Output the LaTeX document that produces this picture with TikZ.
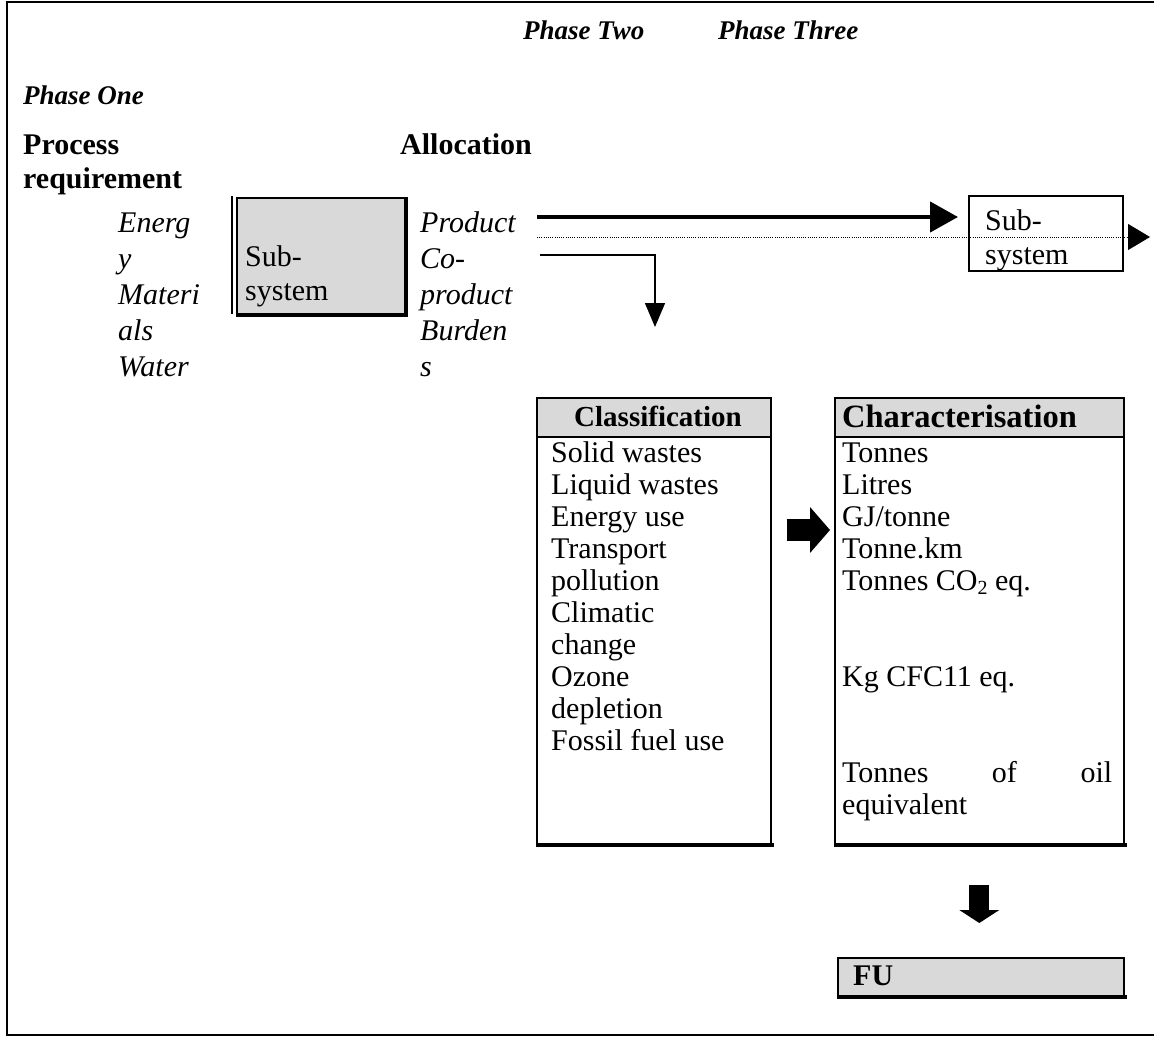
\documentclass[tikz,border=0pt]{standalone}
\usepackage{fontspec}
\setmainfont{Liberation Serif}
\usetikzlibrary{arrows.meta}
\definecolor{boxgray}{HTML}{D9D9D9}
\tikzset{
  txt/.style={font=\fontsize{30}{32}\selectfont, inner sep=0pt, anchor=base west},
  itx/.style={txt, font=\fontsize{30}{32}\selectfont\itshape},
  bfx/.style={txt, font=\fontsize{30}{32}\selectfont\bfseries},
  phase/.style={txt, font=\fontsize{27}{30}\selectfont\bfseries\itshape},
  frameline/.style={line width=2.5pt},
  boxline/.style={line width=1.6pt},
  shadowline/.style={line width=4pt},
  emptybox/.style={draw, boxline, inner sep=0pt, anchor=north west},
  graybox/.style={emptybox, fill=boxgray},
  thickarrow/.style={line width=4.5pt, -{Triangle[length=28pt,width=30pt]}},
  dotarrow/.style={line width=1pt, dash pattern=on 1pt off 1.2pt, -{Triangle[length=22pt,width=26pt]}},
  thinarrow/.style={line width=1.5pt, -{Triangle[length=24pt,width=20pt]}},
}
\begin{document}
\begin{tikzpicture}[x=1pt,y=-1pt]
\useasboundingbox (0,0) rectangle (1154,1038);
% outer frame
\draw[frameline] (1170,2) -- (7,2) -- (7,1035) -- (1170,1035);

% phase titles
\node[phase] (p2) at (523,40) {Phase Two};
\node[phase] (p3) at (718,40) {Phase Three};
\node[phase] (p1) at (23,105) {Phase One};
\node[bfx] (proc) at (23,155) {Process};
\node[bfx] (req) at (23,188) {requirement};
\node[bfx] (alloc) at (400,155) {Allocation};

% inputs
\node[itx] (in1) at (118,232) {Energ};
\node[itx] (in2) at (118,268) {y};
\node[itx] (in3) at (118,304) {Materi};
\node[itx] (in4) at (118,340) {als};
\node[itx] (in5) at (118,376) {Water};

% outputs
\node[itx] (out1) at (420,232) {Product};
\node[itx] (out2) at (420,268) {Co-};
\node[itx] (out3) at (420,304) {product};
\node[itx] (out4) at (420,340) {Burden};
\node[itx] (out5) at (420,376) {s};

% gray sub-system
\node[graybox, minimum width=168pt, minimum height=116pt] (sub1) at (236,197) {};
\draw[boxline] (232,196) -- (232,314);
\draw[shadowline] (sub1.north east) -- (sub1.south east) -- (sub1.south west);
\node[txt] (sub1a) at (245,266) {Sub-};
\node[txt] (sub1b) at (245,300) {system};

% arrows to second sub-system
\coordinate (a0) at (537,217);
\coordinate (b0) at (537,237);
\coordinate (bend) at (1150,237);
\coordinate (c0) at (540,255);
\coordinate (c1) at (655,327);
\draw[dotarrow] (b0) -- (bend);
\node[emptybox, minimum width=154pt, minimum height=75pt] (sub2) at (968,195) {};
\node[txt] (sub2a) at (985,230) {Sub-};
\node[txt] (sub2b) at (985,264) {system};
\draw[thickarrow, shorten >=10pt] (a0) -- (sub2.west |- a0);
\draw[thinarrow] (c0) -| (c1);

% classification
\node[graybox, minimum width=234pt, minimum height=39pt] (clsh) at (536,397) {};
\node[txt, font=\fontsize{29}{30}\selectfont\bfseries, anchor=base] (clst) at (658,426) {Classification};
\node[emptybox, minimum width=234pt, minimum height=407pt] (clsb) at (536,436) {};
\draw[shadowline] (clsb.south west) -- ([xshift=2pt]clsb.south east);
\foreach \t [count=\i] in {Solid wastes, Liquid wastes, Energy use, Transport, pollution, Climatic, change, Ozone, depletion, Fossil fuel use}
  \node[txt] (cl\i) at (551,430+32*\i) {\t};

% characterisation
\node[graybox, minimum width=289pt, minimum height=39pt] (chrh) at (834,397) {};
\node[txt, font=\fontsize{32.5}{33}\selectfont\bfseries] (chrt) at (842,427) {Characterisation};
\node[emptybox, minimum width=289pt, minimum height=407pt] (chrb) at (834,436) {};
\draw[shadowline] (chrb.south west) -- ([xshift=2pt]chrb.south east);
\node[txt] (ch1) at (842,462) {Tonnes};
\node[txt] (ch2) at (842,494) {Litres};
\node[txt] (ch3) at (842,526) {GJ/tonne};
\node[txt] (ch4) at (842,558) {Tonne.km};
\node[txt] (ch5) at (842,590) {Tonnes CO\raisebox{-4pt}{\fontsize{20}{20}\selectfont 2} eq.};
\node[txt] (ch6) at (842,686) {Kg CFC11 eq.};
\node[txt] (ch7) at (842,782) {\makebox[270pt][s]{Tonnes\hfill of\hfill oil}};
\node[txt] (ch8) at (842,814) {equivalent};

% block arrow classification -> characterisation
\coordinate (bay) at (0,530);
\draw[line width=22pt, -{Triangle[length=20pt,width=46pt,line width=0pt]}, shorten <=15pt, shorten >=4pt]
  (clsb.east |- bay) -- (chrb.west |- bay);

% FU
\node[graybox, minimum width=286pt, minimum height=38pt] (fu) at (837,957) {};
\draw[shadowline] (fu.south west) -- ([xshift=2pt]fu.south east);
\node[bfx] (fut) at (853,985) {FU};
\draw[line width=20pt, -{Triangle[length=13pt,width=40pt,line width=0pt]}, shorten <=40pt, shorten >=34pt]
  (chrb.south) -- (chrb.south |- fu.north);
\end{tikzpicture}
\end{document}
